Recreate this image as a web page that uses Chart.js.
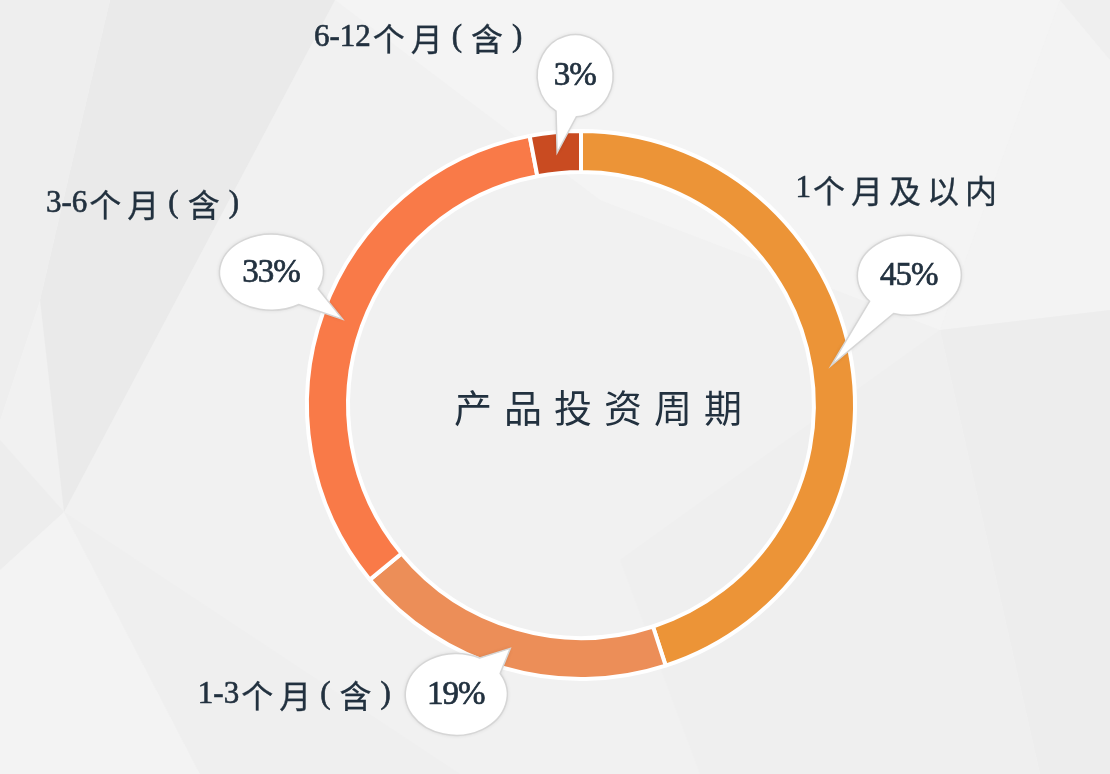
<!DOCTYPE html>
<html>
<head>
<meta charset="utf-8">
<script src="https://cdn.jsdelivr.net/npm/chart.js@4"></script>
<style>
  html, body { margin: 0; padding: 0; background: #F1F1F1; }
  #wrap { width: 1110px; height: 774px; position: relative; }
</style>
</head>
<body>
<div id="wrap"><canvas id="c" width="1110" height="774"></canvas></div>
<script>
// ---- data ----
const categories = ['1个月及以内', '1-3个月(含)', '3-6个月(含)', '6-12个月(含)'];
const shares = [45, 19, 33, 3];
const percentLabels = ['45%', '19%', '33%', '3%'];
const centerTitle = '产品投资周期';

// ---- styles / layout (not data) ----
const sliceColors = ['#EC9437', '#EC8E58', '#F97A48', '#C94B21'];
const bubbleStyle = [
  { dx: 78,  dy: -90, rx: 52, ry: 40, lx: -13,  ly: -86 },
  { dx: -54, dy: 46,  rx: 51, ry: 41, lx: -162, ly: 0 },
  { dx: -71, dy: -47, rx: 52, ry: 38, lx: -129, ly: -68 },
  { dx: 18,  dy: -77, rx: 38, ry: 41, lx: -157, ly: -38 }
];
const textColor = '#22313F';
const serif = '"Liberation Serif", "DejaVu Serif", serif';
const cjkFont = '"Noto Sans CJK SC"';

function isCJK(c) { return /[\u3400-\u9fff]/.test(c); }
function isParen(c) { return c === '(' || c === ')'; }

// draws a mixed label: CJK glyphs in a CJK font, the rest in a serif font
function mixedLabel(ctx, str, cx, cy) {
  const chars = [...str];
  const fontOf = ch => isCJK(ch) ? '32px ' + cjkFont : '31px ' + serif;
  const widths = chars.map(ch => { ctx.font = fontOf(ch); return ctx.measureText(ch).width; });
  const gaps = chars.map((ch, i) => {
    if (i === chars.length - 1) return 0;
    const n = chars[i + 1];
    if (!isCJK(ch) && !isParen(ch) && !isCJK(n) && !isParen(n)) return 0;
    if (!isCJK(ch) && !isParen(ch) && isCJK(n)) return 2;
    if (isParen(ch) || isParen(n)) return 9;
    return 6;
  });
  const total = widths.reduce((a, b) => a + b, 0) + gaps.reduce((a, b) => a + b, 0);
  let x = cx - total / 2;
  ctx.textAlign = 'left';
  ctx.textBaseline = 'middle';
  chars.forEach((ch, i) => {
    ctx.font = fontOf(ch);
    const yOff = isCJK(ch) ? 1 : 0;
    ctx.fillText(ch, x, cy + yOff);
    ctx.lineWidth = isCJK(ch) ? 0.3 : 0.6;
    ctx.strokeStyle = ctx.fillStyle;
    ctx.strokeText(ch, x, cy + yOff);
    x += widths[i] + gaps[i];
  });
}

function spacedText(ctx, str, cx, cy, spacing, strokeW) {
  const chars = [...str];
  const widths = chars.map(ch => ctx.measureText(ch).width);
  const total = widths.reduce((a, b) => a + b, 0) + spacing * (chars.length - 1);
  let x = cx - total / 2;
  ctx.textAlign = 'left';
  chars.forEach((ch, i) => {
    ctx.fillText(ch, x, cy);
    if (strokeW) { ctx.lineWidth = strokeW; ctx.strokeStyle = ctx.fillStyle; ctx.strokeText(ch, x, cy); }
    x += widths[i] + spacing;
  });
}

const bgPlugin = {
  id: 'bg',
  beforeDraw(chart) {
    const ctx = chart.ctx;
    ctx.save();
    ctx.fillStyle = '#F1F1F1';
    ctx.fillRect(0, 0, chart.width, chart.height);
    const polys = [
      { c: '#EAEAEA', p: [[110,0],[335,0],[64,512],[40,300]] },
      { c: '#EEEEEE', p: [[0,0],[110,0],[40,300],[0,420]] },
      { c: '#EDEDED', p: [[0,440],[64,512],[0,570]] },
      { c: '#F3F3F3', p: [[64,512],[200,774],[0,774],[0,570]] },
      { c: '#EFEFEF', p: [[64,512],[460,774],[200,774]] },
      { c: '#F4F4F4', p: [[335,0],[1060,0],[940,330],[600,200]] },
      { c: '#EFEFEF', p: [[1060,0],[1110,0],[1110,60]] },
      { c: '#F3F3F3', p: [[1060,0],[1110,60],[1110,310],[940,330]] },
      { c: '#EDEDED', p: [[940,330],[1110,310],[1110,774],[1040,774]] },
      { c: '#EFEFEF', p: [[620,560],[940,330],[1040,774],[700,774]] }
    ];
    polys.forEach(o => {
      ctx.beginPath();
      o.p.forEach((pt, i) => i ? ctx.lineTo(pt[0], pt[1]) : ctx.moveTo(pt[0], pt[1]));
      ctx.closePath();
      ctx.fillStyle = o.c;
      ctx.fill();
    });
    ctx.restore();
  }
};

const calloutPlugin = {
  id: 'callouts',
  afterDatasetsDraw(chart) {
    const ctx = chart.ctx;
    const meta = chart.getDatasetMeta(0);
    const arc0 = meta.data[0];
    // center title
    ctx.save();
    ctx.fillStyle = textColor;
    ctx.font = '400 38px ' + cjkFont;
    ctx.textBaseline = 'middle';
    spacedText(ctx, centerTitle, arc0.x + 17, arc0.y + 3, 12, 0);
    ctx.restore();

    meta.data.forEach((arc, i) => {
      const tip = arc.tooltipPosition();
      const s = bubbleStyle[i];
      const cx = tip.x + s.dx, cy = tip.y + s.dy;
      const ang = Math.atan2((tip.y - cy) / s.ry, (tip.x - cx) / s.rx);
      const half = 0.28;
      ctx.save();
      ctx.beginPath();
      ctx.ellipse(cx, cy, s.rx, s.ry, 0, ang + half, ang - half + Math.PI * 2);
      ctx.lineTo(tip.x, tip.y);
      ctx.closePath();
      ctx.shadowColor = 'rgba(0,0,0,0.12)';
      ctx.shadowBlur = 4;
      ctx.fillStyle = '#FFFFFF';
      ctx.fill();
      ctx.shadowColor = 'transparent';
      ctx.strokeStyle = '#D6D6D6';
      ctx.lineWidth = 1.5;
      ctx.stroke();
      ctx.fillStyle = textColor;
      ctx.font = '33px ' + serif;
      ctx.textBaseline = 'middle';
      spacedText(ctx, percentLabels[i], cx, cy + 1, -1, 0.7);
      mixedLabel(ctx, categories[i], cx + s.lx, cy + s.ly);
      ctx.restore();
    });
  }
};

new Chart(document.getElementById('c'), {
  type: 'doughnut',
  data: {
    labels: categories,
    datasets: [{
      data: shares,
      backgroundColor: sliceColors,
      borderColor: '#FFFFFF',
      borderWidth: 4,
      hoverOffset: 0
    }]
  },
  options: {
    responsive: false,
    animation: false,
    cutout: '85%',
    rotation: 0,
    layout: { padding: { left: 305, right: 253, top: 129, bottom: 93 } },
    plugins: { legend: { display: false }, tooltip: { enabled: false } }
  },
  plugins: [bgPlugin, calloutPlugin]
});
</script>
</body>
</html>
